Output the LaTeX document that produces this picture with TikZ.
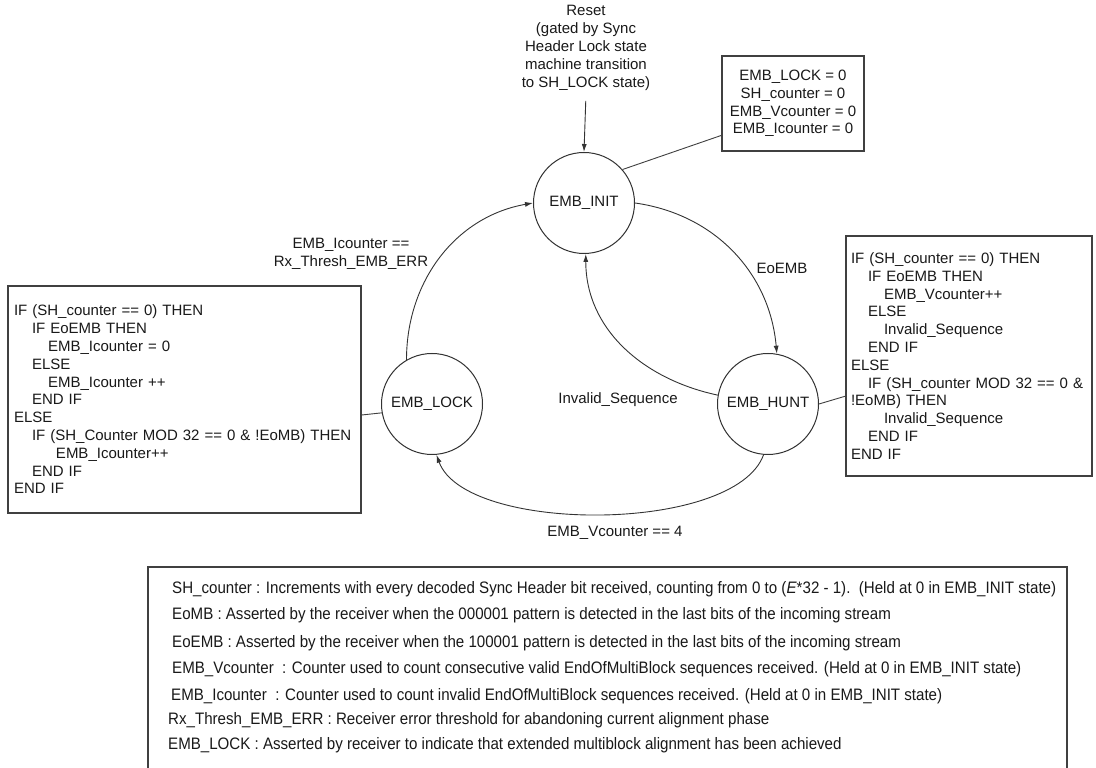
\documentclass[tikz,border=0pt]{standalone}
\usepackage{fontspec}
\setmainfont{Liberation Sans}
\newfontfamily\legendfont[FakeStretch=0.91]{Liberation Sans}
\usetikzlibrary{arrows.meta}
\begin{document}
\begin{tikzpicture}[x=1pt,y=1pt,
  txt/.style={font=\fontsize{15}{17.8}\selectfont, text=black!90},
  state/.style={circle, draw=black!80, line width=1pt, minimum size=101pt, inner sep=0pt, txt},
  codebox/.style={draw=black!75, line width=1.4pt, align=left, txt, inner ysep=0pt},
  trans/.style={draw=black!80, line width=0.9pt, -{Latex[length=8pt,width=5pt]}},
  link/.style={draw=black!75, line width=0.9pt},
  lgd/.style={anchor=base west, inner sep=0pt, font=\legendfont\fontsize{16.6}{18}\selectfont, text=black!90},
]
\useasboundingbox (0,0) rectangle (1096,768);
\fill[white] (0,0) rectangle (1096,768);

% reset text
\node[txt, align=center] (reset) at (586,720) {Reset\\(gated by Sync\\Header Lock state\\machine transition\\to SH\_LOCK state)};

% states
\node[state] (init) at (584,565) {EMB\_INIT};
\node[state] (lock) at (432,364) {EMB\_LOCK};
\node[state] (hunt) at (768,364) {EMB\_HUNT};

% boxes
\node[codebox, align=center, minimum width=142pt, minimum height=95pt] (ibox) at (793,664.5)
  {EMB\_LOCK = 0\\SH\_counter = 0\\EMB\_Vcounter = 0\\EMB\_Icounter = 0};

\node[codebox, text width=341pt, inner xsep=6pt, minimum height=227pt] (lbox) at (184.5,368.5)
  {IF (SH\_counter == 0) THEN\\
   \hspace*{18pt}IF EoEMB THEN\\
   \hspace*{34pt}EMB\_Icounter = 0\\
   \hspace*{18pt}ELSE\\
   \hspace*{34pt}EMB\_Icounter ++\\
   \hspace*{18pt}END IF\\
   ELSE\\
   \hspace*{18pt}IF (SH\_Counter MOD 32 == 0 \& !EoMB) THEN\\
   \hspace*{42pt}EMB\_Icounter++\\
   \hspace*{18pt}END IF\\
   END IF};

\node[codebox, text width=236pt, inner xsep=5pt, minimum height=240pt] (rbox) at (969,412)
  {IF (SH\_counter == 0) THEN\\
   \hspace*{17pt}IF EoEMB THEN\\
   \hspace*{33pt}EMB\_Vcounter++\\
   \hspace*{17pt}ELSE\\
   \hspace*{33pt}Invalid\_Sequence\\
   \hspace*{17pt}END IF\\
   ELSE\\
   \hspace*{17pt}IF (SH\_counter MOD 32 == 0 \&\\
   !EoMB) THEN\\
   \hspace*{33pt}Invalid\_Sequence\\
   \hspace*{17pt}END IF\\
   END IF};

% connectors
\draw[trans, shorten <=7pt] (reset.south) -- (init.north);
\draw[link] (init.41) -- (ibox.204);
\draw[link] (lbox.-5) -- (lock.190);
\draw[link] (hunt.east) -- (rbox.198);

\draw[trans] (lock.120) to[out=90, in=190] (init.west);
\draw[trans] (init.east) to[out=-8, in=95] (hunt.80);
\draw[trans] (hunt.170) to[out=168, in=-90] (init.-88);
\draw[trans] (hunt.-95) to[out=-110, in=-70, looseness=0.66] (lock.-85);

% labels
\node[txt, align=center] (lblI) at (351,514) {EMB\_Icounter ==\\Rx\_Thresh\_EMB\_ERR};
\node[txt] (lblE) at (782,500) {EoEMB};
\node[txt] (lblS) at (618,368) {Invalid\_Sequence};
\node[txt] (lblV) at (615,235) {EMB\_Vcounter == 4};

% legend
\draw[draw=black!75, line width=1.4pt] (148,-3) |- (1067,201) -- (1067,-3);
\node[lgd] (l1) at (172,174.5) {SH\_counter : Increments with every decoded Sync Header bit received, counting from 0 to (\textit{E}*32 - 1).\ \ (Held at 0 in EMB\_INIT state)};
\node[lgd] (l2) at (172,148.5) {EoMB : Asserted by the receiver when the 000001 pattern is detected in the last bits of the incoming stream};
\node[lgd] (l3) at (172,120.5) {EoEMB : Asserted by the receiver when the 100001 pattern is detected in the last bits of the incoming stream};
\node[lgd] (l4) at (172,94.5) {EMB\_Vcounter\ \ : Counter used to count consecutive valid EndOfMultiBlock sequences received. (Held at 0 in EMB\_INIT state)};
\node[lgd] (l5) at (171,67.5) {EMB\_Icounter\ \ : Counter used to count invalid EndOfMultiBlock sequences received. (Held at 0 in EMB\_INIT state)};
\node[lgd] (l6) at (168,43.5) {Rx\_Thresh\_EMB\_ERR : Receiver error threshold for abandoning current alignment phase};
\node[lgd] (l7) at (168,18.5) {EMB\_LOCK : Asserted by receiver to indicate that extended multiblock alignment has been achieved};
\end{tikzpicture}
\end{document}
